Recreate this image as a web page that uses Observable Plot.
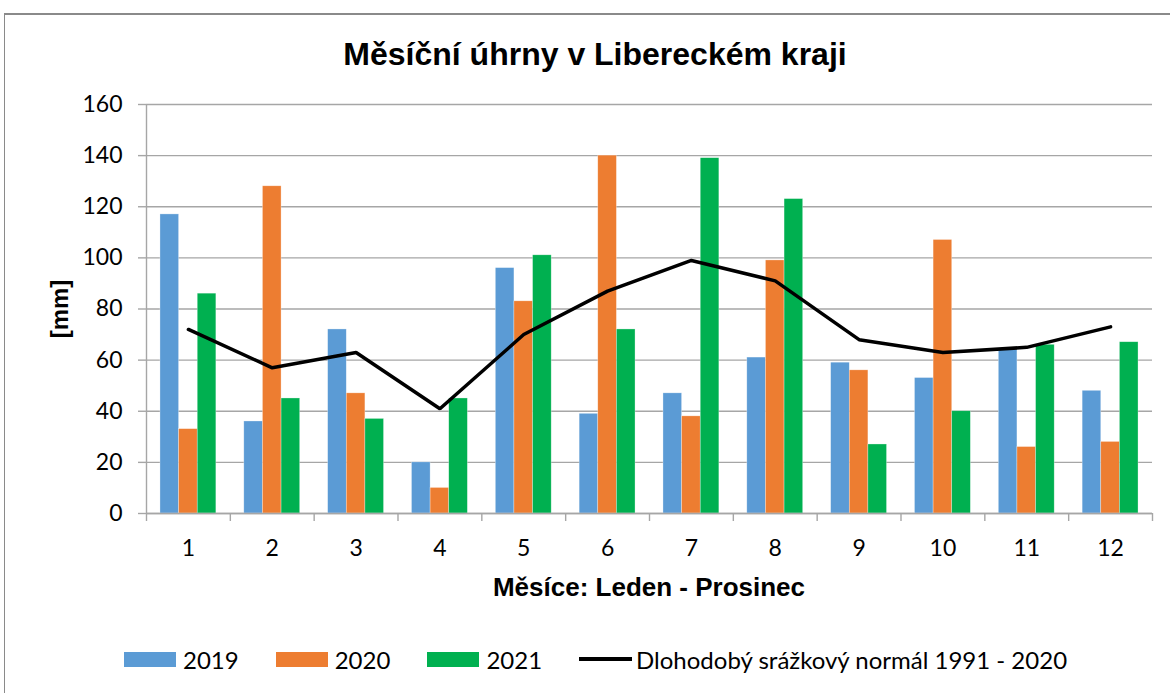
<!DOCTYPE html>
<html>
<head>
<meta charset="utf-8">
<script src="https://cdn.jsdelivr.net/npm/d3@7"></script>
<script src="https://cdn.jsdelivr.net/npm/@observablehq/plot@0.6"></script>
<style>
  html, body { margin: 0; padding: 0; background: #fff; }
  #wrap { position: relative; width: 1170px; height: 693px; overflow: hidden; background: #fff; }
  #frame { position: absolute; left: 4px; top: 13px; width: 1200px; height: 720px; border-left: 1px solid #8a8a8a; border-top: 2px solid #8a8a8a; box-sizing: border-box; }
  #title { position: absolute; left: 0; width: 1190px; top: 36px; text-align: center; font: bold 32px "Liberation Sans", Arial, sans-serif; color: #000; line-height: 36px; }
  #xtitle { position: absolute; left: 146px; width: 1006px; top: 572px; text-align: center; font: bold 26px "Liberation Sans", Arial, sans-serif; color: #000; line-height: 30px; }
  #ytitle { position: absolute; left: 60px; top: 309px; transform: translate(-50%, -50%) rotate(-90deg); font: bold 24px "Liberation Sans", Arial, sans-serif; color: #000; white-space: nowrap; }
  #chart { position: absolute; left: 0; top: 80px; }
  #legend { position: absolute; left: 124px; top: 645px; display: flex; align-items: center; font: 24px Lato, sans-serif; color: #000; height: 28px; }
  .item { display: flex; align-items: center; margin-right: 37px; }
  .sw { width: 52px; height: 15px; margin-right: 7px; }
  .ln { width: 53px; height: 4px; background: #000; margin-right: 4px; }
</style>
</head>
<body>
<div id="wrap">
  <div id="frame"></div>
  <div id="title">Měsíční úhrny v Libereckém kraji</div>
  <div id="ytitle">[mm]</div>
  <div id="chart"></div>
  <div id="xtitle">Měsíce: Leden - Prosinec</div>
  <div id="legend"></div>
</div>
<script>
const months = [1, 2, 3, 4, 5, 6, 7, 8, 9, 10, 11, 12];
const years = ["2019", "2020", "2021"];
const v2019 = [117, 36, 72, 20, 96, 39, 47, 61, 59, 53, 64, 48];
const v2020 = [33, 128, 47, 10, 83, 140, 38, 99, 56, 107, 26, 28];
const v2021 = [86, 45, 37, 45, 101, 72, 139, 123, 27, 40, 66, 67];
const normal = [72, 57, 63, 41, 70, 87, 99, 91, 68, 63, 65, 73];
const normalLabel = "Dlohodobý srážkový normál 1991 - 2020";
const yTicks = [0, 20, 40, 60, 80, 100, 120, 140, 160];
const colors = ["#5b9bd5", "#ed7d31", "#00b050"];

const seriesValues = [v2019, v2020, v2021];
const bars = [];
years.forEach((yr, i) => months.forEach((m, j) => bars.push({month: m, year: yr, idx: i, value: seriesValues[i][j]})));
const lineData = months.map((m, j) => ({month: m, value: normal[j]}));

const groupWidth = 2 / 3; // fraction of category occupied by the bar cluster
const bw = groupWidth / years.length;
const xDomain = [months[0] - 0.5, months[months.length - 1] + 0.5];
const boundaries = d3.range(xDomain[0], xDomain[1] + 0.01, 1);
const grid = "#a6a6a6";

const plot = Plot.plot({
  width: 1170,
  height: 483,
  marginTop: 24,
  marginBottom: 50,
  marginLeft: 146,
  marginRight: 18,
  style: {fontFamily: "Lato, sans-serif", fontSize: "23px", color: "#000", background: "transparent"},
  x: {type: "linear", domain: xDomain},
  y: {domain: [yTicks[0], yTicks[yTicks.length - 1]]},
  color: {domain: years, range: colors},
  marks: [
    Plot.gridY(yTicks, {stroke: grid, strokeOpacity: 1, strokeWidth: 1.4}),
    Plot.rectY(bars, {
      x1: d => d.month - groupWidth / 2 + d.idx * bw,
      x2: d => d.month - groupWidth / 2 + (d.idx + 1) * bw,
      y1: 0,
      y2: "value",
      fill: "year",
      stroke: "#ffffff",
      strokeOpacity: 0.5,
      strokeWidth: 0.6
    }),
    Plot.ruleX([xDomain[0]], {stroke: grid, strokeWidth: 1.4}),
    Plot.ruleY([yTicks[0]], {stroke: grid, strokeWidth: 1.4}),
    Plot.axisY(yTicks, {tickSize: 8, tickPadding: 16, stroke: grid, strokeOpacity: 1, strokeWidth: 1.4, label: null, fill: "#000"}),
    Plot.axisX(boundaries, {tickSize: 8, tickFormat: () => "", stroke: grid, strokeOpacity: 1, strokeWidth: 1.4, label: null}),
    Plot.axisX(months, {tickSize: 0, tickPadding: 26, label: null, fill: "#000", tickFormat: d => String(d)}),
    Plot.line(lineData, {x: "month", y: "value", stroke: "#000", strokeWidth: 3.5, strokeLinejoin: "miter"})
  ]
});
document.getElementById("chart").appendChild(plot);

const legend = document.getElementById("legend");
years.forEach((yr, i) => {
  const it = document.createElement("div");
  it.className = "item";
  it.innerHTML = `<div class="sw" style="background:${colors[i]}"></div><span>${yr}</span>`;
  legend.appendChild(it);
});
const li = document.createElement("div");
li.className = "item";
li.innerHTML = `<div class="ln"></div><span>${normalLabel}</span>`;
legend.appendChild(li);
</script>
</body>
</html>
